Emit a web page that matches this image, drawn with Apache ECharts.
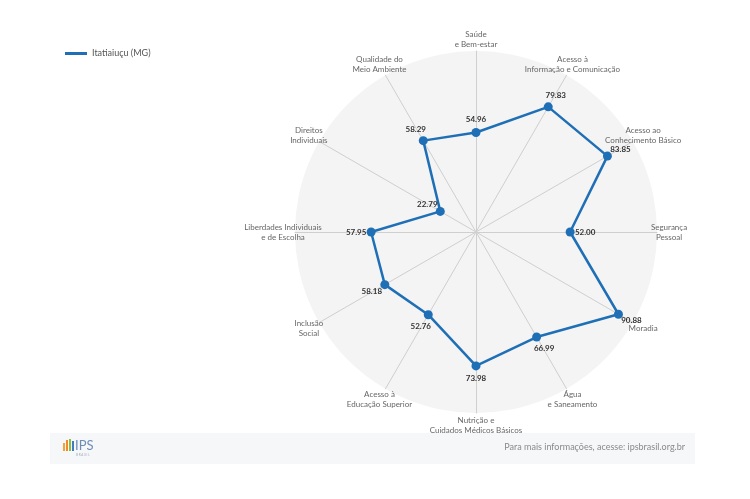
<!DOCTYPE html>
<html>
<head>
<meta charset="utf-8">
<script src="https://cdn.jsdelivr.net/npm/echarts@6/dist/echarts.min.js"></script>
<style>
html,body{margin:0;padding:0;background:#fff;}
#chart{width:750px;height:499px;}
</style>
</head>
<body>
<div id="chart"></div>
<script>
// ---- data (clockwise from top) ----
const seriesName = 'Itatiaiuçu (MG)';
const categories = [
  'Saúde\ne Bem-estar',
  'Acesso à\nInformação e Comunicação',
  'Acesso ao\nConhecimento Básico',
  'Segurança\nPessoal',
  'Moradia',
  'Água\ne Saneamento',
  'Nutrição e\nCuidados Médicos Básicos',
  'Acesso à\nEducação Superior',
  'Inclusão\nSocial',
  'Liberdades Individuais\ne de Escolha',
  'Direitos\nIndividuais',
  'Qualidade do\nMeio Ambiente'
];
const values = [54.96, 79.83, 83.85, 52.00, 90.88, 66.99, 73.98, 52.76, 58.18, 57.95, 22.79, 58.29];
const axisMax = 100;
const footerText = 'Para mais informações, acesse: ipsbrasil.org.br';

// ECharts radar runs counter-clockwise: reorder so the picture reads clockwise
const order = categories.map((_, i) => (categories.length - i) % categories.length);
const radarNames = order.map(i => categories[i]);
const radarValues = order.map(i => values[i]);

// ---- layout / style ----
const CX = 476, CY = 232, R = 181;
const FONT = 'Lato, "Noto Sans", sans-serif';
const LINE_COLOR = '#1f6fb6';

const chart = echarts.init(document.getElementById('chart'), null, {renderer: 'canvas'});

const option = {
  backgroundColor: '#ffffff',
  textStyle: {fontFamily: FONT},
  legend: {
    left: 60, top: 44,
    icon: 'rect',
    itemWidth: 22, itemHeight: 3,
    itemGap: 10,
    textStyle: {fontSize: 9, color: '#555', fontFamily: FONT},
    data: [seriesName]
  },
  radar: {
    center: [CX, CY],
    radius: R,
    startAngle: 90,
    shape: 'circle',
    splitNumber: 1,
    nameGap: 12,
    axisName: {
      color: '#666',
      fontSize: 8,
      fontFamily: FONT,
      lineHeight: 10,
      align: 'center',
      verticalAlign: 'middle'
    },
    axisLine: {lineStyle: {color: '#cfcfcf', width: 1}},
    splitLine: {show: false},
    splitArea: {show: true, areaStyle: {color: ['#f4f4f4']}},
    axisTick: {show: false},
    axisLabel: {show: false},
    indicator: radarNames.map(n => ({name: n, max: axisMax, min: 0}))
  },
  series: [{
    type: 'radar',
    name: seriesName,
    symbol: 'circle',
    symbolSize: 9,
    lineStyle: {color: LINE_COLOR, width: 2.5},
    itemStyle: {color: LINE_COLOR},
    label: {
      show: true,
      fontSize: 8,
      fontWeight: 'bold',
      color: '#333',
      fontFamily: FONT,
      formatter: p => Number(p.value).toFixed(2)
    },
    labelLayout: function (params) {
      const r = params.rect;
      const sx = r.x + r.width / 2, sy = r.y + r.height / 2;
      let dx = sx - CX, dy = sy - CY;
      const d = Math.sqrt(dx * dx + dy * dy) || 1;
      dx /= d; dy /= d;
      return {
        x: sx + dx * 15,
        y: sy + dy * 13,
        align: 'center',
        verticalAlign: 'middle'
      };
    },
    data: [{value: radarValues, name: seriesName}]
  }],
  graphic: [
    {type: 'rect', left: 50, top: 433, shape: {width: 645, height: 31}, style: {fill: '#f6f7f9'}, silent: true},
    {type: 'rect', left: 63, top: 443, shape: {width: 2, height: 8}, style: {fill: '#f3a23a'}},
    {type: 'rect', left: 66, top: 440, shape: {width: 2, height: 11}, style: {fill: '#f08a2b'}},
    {type: 'rect', left: 69, top: 439, shape: {width: 2, height: 12}, style: {fill: '#8dbf3f'}},
    {type: 'rect', left: 72, top: 441, shape: {width: 2, height: 10}, style: {fill: '#3d7dc0'}},
    {type: 'text', left: 75, top: 439, style: {text: 'IPS', fill: '#6d8db5', font: '13px ' + FONT}},
    {type: 'text', left: 76, top: 454, style: {text: 'B R A S I L', fill: '#9aa7b8', font: '3px ' + FONT}},
    {type: 'text', right: 65, top: 443, style: {text: footerText, fill: '#8a8a8a', font: '9px ' + FONT}}
  ]
};
chart.setOption(option);
</script>
</body>
</html>
